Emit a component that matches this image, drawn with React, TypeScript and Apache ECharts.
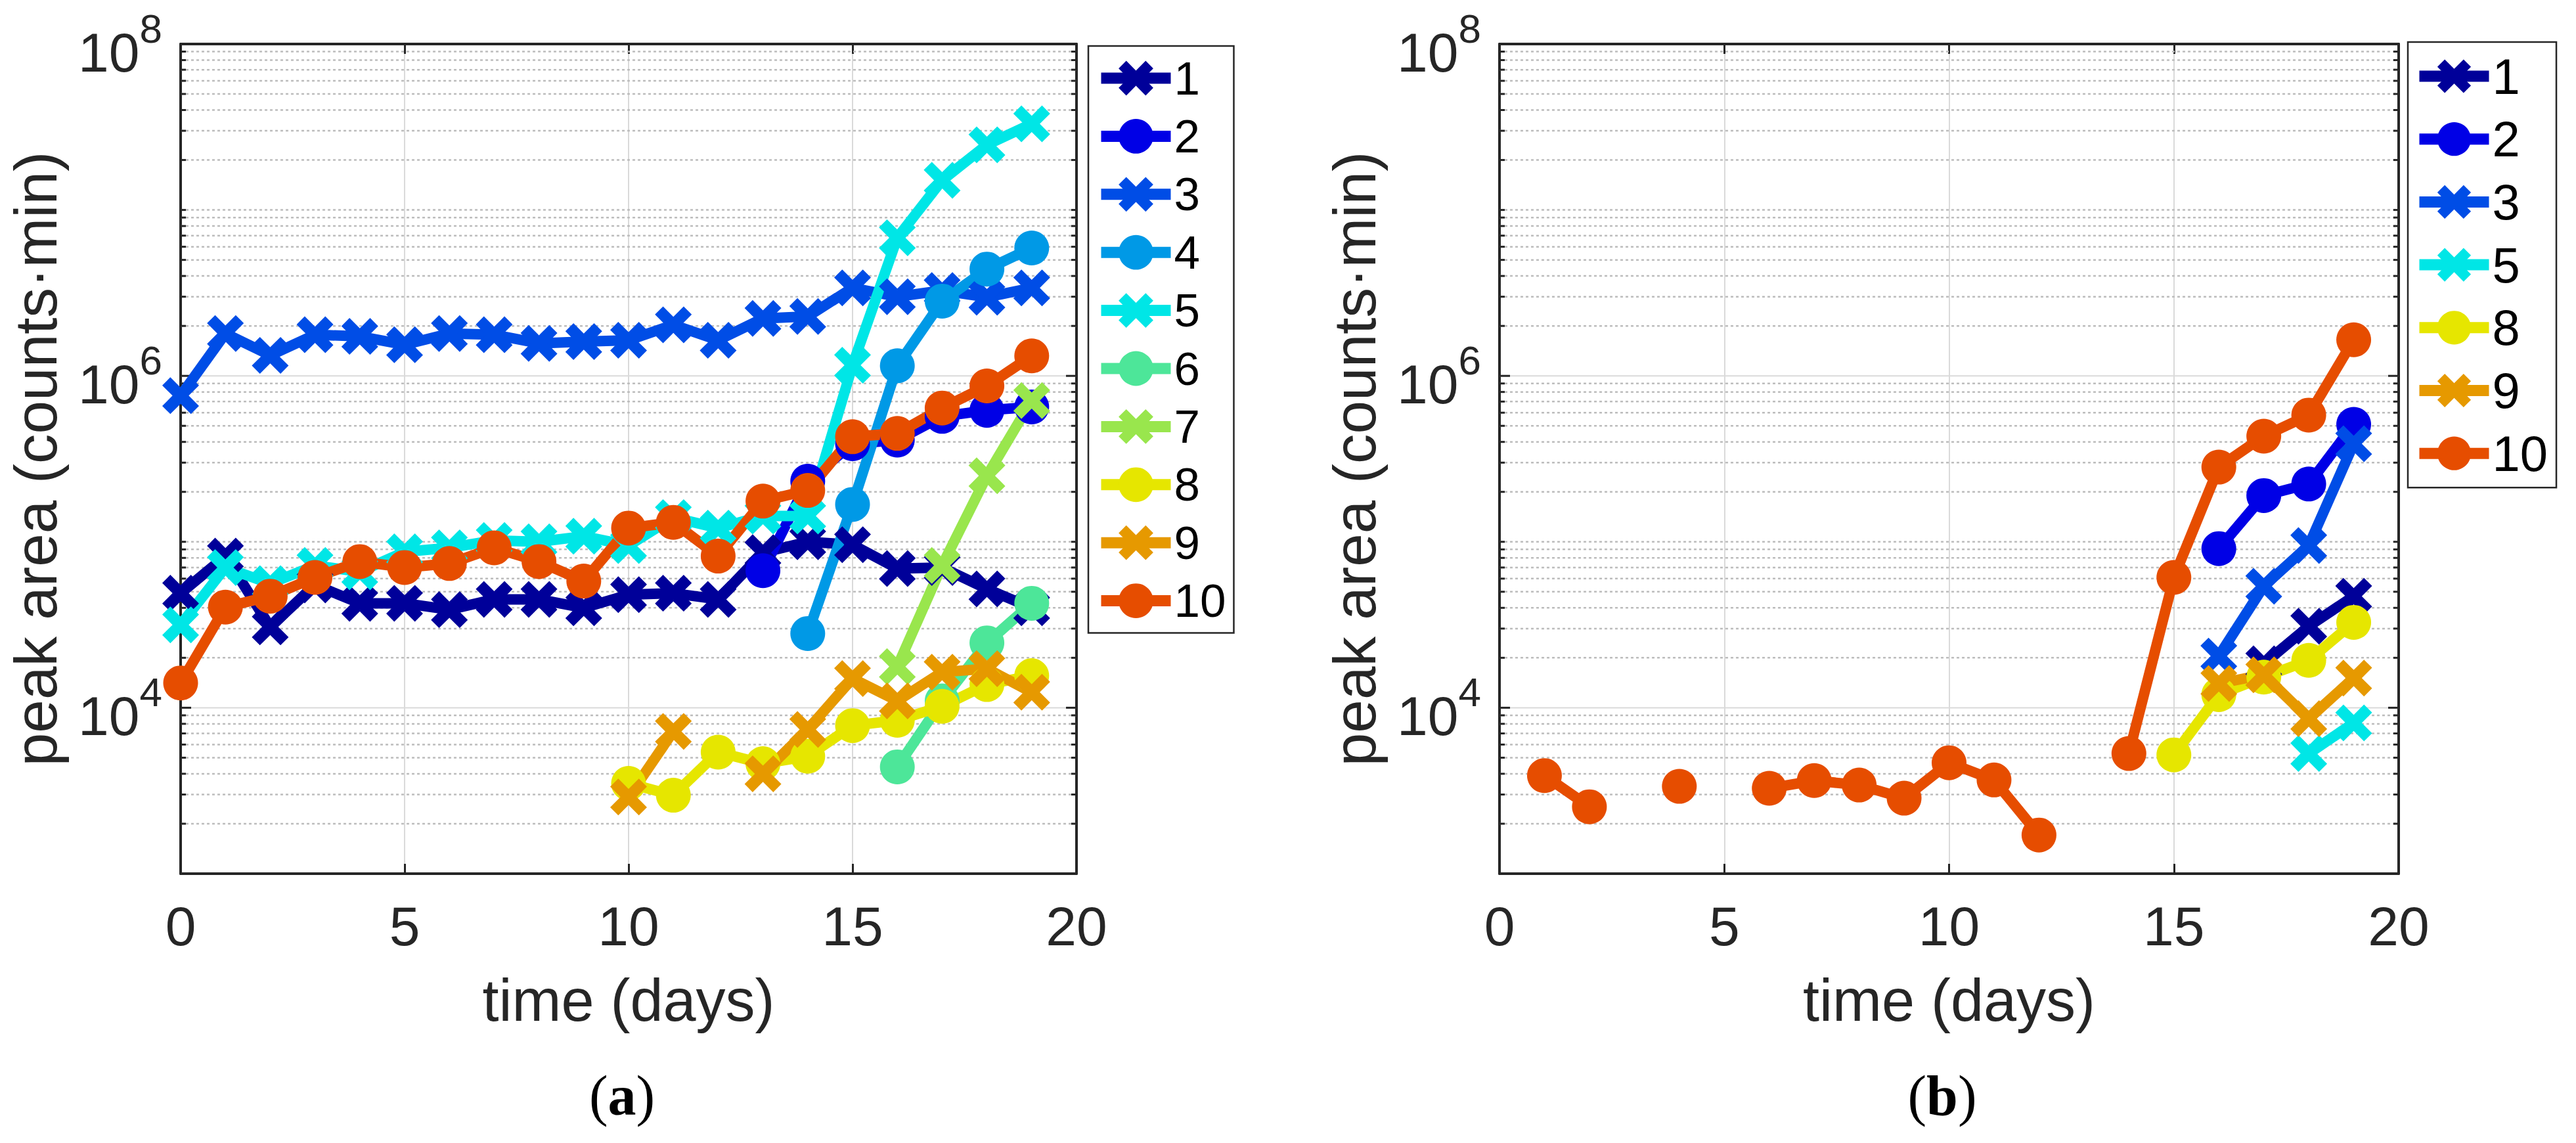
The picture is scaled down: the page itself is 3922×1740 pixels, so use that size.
import React, { useEffect, useRef } from "react";
import * as echarts from "echarts";

const FONT = "'Liberation Sans', Arial, Helvetica, sans-serif";
const SERIF = "'Liberation Serif', 'Times New Roman', serif";
const AXIS_COLOR = "#262626";

// ---------------- data ----------------
const DAYS = [0, 1, 2, 3, 4, 5, 6, 7, 8, 9, 10, 11, 12, 13, 14, 15, 16, 17, 18, 19];

const NAMES_A = ["1", "2", "3", "4", "5", "6", "7", "8", "9", "10"];
const NAMES_B = ["1", "2", "3", "5", "8", "9", "10"];

const COLORS: Record<string, string> = {
  "1": "#000099",
  "2": "#0000E6",
  "3": "#004DE6",
  "4": "#0099E6",
  "5": "#00E6E6",
  "6": "#4DE699",
  "7": "#99E64D",
  "8": "#E6E600",
  "9": "#E69900",
  "10": "#E64D00",
};

const MARKERS: Record<string, string> = {
  "1": "x", "2": "o", "3": "x", "4": "o", "5": "x",
  "6": "o", "7": "x", "8": "o", "9": "x", "10": "o",
};

// panel (a): peak area per day
const A1 = [4.9e4, 8.2e4, 3.07e4, 5.5e4, 4.26e4, 4.26e4, 3.9e4, 4.5e4, 4.5e4, 4.0e4, 4.8e4, 4.9e4, 4.5e4, 8.6e4, 1.0e5, 9.6e4, 6.9e4, 7.0e4, 5.2e4, 4.0e4];
const A2 = [null, null, null, null, null, null, null, null, null, null, null, null, null, 6.7e4, 2.32e5, 3.9e5, 4.1e5, 5.7e5, 6.2e5, 6.5e5];
const A3 = [7.6e5, 1.8e6, 1.33e6, 1.77e6, 1.73e6, 1.54e6, 1.8e6, 1.77e6, 1.57e6, 1.61e6, 1.64e6, 2.03e6, 1.64e6, 2.22e6, 2.28e6, 3.39e6, 3.0e6, 3.27e6, 2.98e6, 3.39e6];
const A4 = [null, null, null, null, null, null, null, null, null, null, null, null, null, null, 2.8e4, 1.68e5, 1.15e6, 2.82e6, 4.4e6, 5.9e6];
const A5 = [3.16e4, 7.0e4, 5.6e4, 7.2e4, 6.6e4, 8.7e4, 9.2e4, 1.02e5, 1.0e5, 1.08e5, 9.5e4, 1.4e5, 1.21e5, 1.43e5, 1.43e5, 1.16e6, 6.8e6, 1.51e7, 2.47e7, 3.3e7];
const A6 = [null, null, null, null, null, null, null, null, null, null, null, null, null, null, null, null, 4.4e3, 1.1e4, 2.46e4, 4.26e4];
const A7 = [null, null, null, null, null, null, null, null, null, null, null, null, null, null, null, null, 1.77e4, 7.2e4, 2.5e5, 7.1e5];
const A8 = [null, null, null, null, null, null, null, null, null, null, 3.5e3, 2.97e3, 5.4e3, 4.6e3, 5.1e3, 7.8e3, 8.4e3, 1.02e4, 1.38e4, 1.56e4];
const A9 = [null, null, null, null, null, null, null, null, null, null, 2.9e3, 7.2e3, null, 4.0e3, 7.4e3, 1.5e4, 1.1e4, 1.64e4, 1.72e4, 1.24e4];
const A10 = [1.41e4, 4.04e4, 4.7e4, 6.1e4, 7.6e4, 7.0e4, 7.4e4, 9.2e4, 7.6e4, 5.8e4, 1.21e5, 1.31e5, 8.2e4, 1.76e5, 2.04e5, 4.3e5, 4.5e5, 6.4e5, 8.7e5, 1.32e6];

// panel (b)
const B1 = [null, null, null, null, null, null, null, null, null, null, null, null, null, null, null, null, null, 1.84e4, 3.1e4, 4.7e4];
const B2 = [null, null, null, null, null, null, null, null, null, null, null, null, null, null, null, null, 9.1e4, 1.9e5, 2.23e5, 5.1e5];
const B3 = [null, null, null, null, null, null, null, null, null, null, null, null, null, null, null, null, 2.05e4, 5.4e4, 9.5e4, 3.9e5];
const B5 = [null, null, null, null, null, null, null, null, null, null, null, null, null, null, null, null, null, null, 5.3e3, 8.1e3];
const B8 = [null, null, null, null, null, null, null, null, null, null, null, null, null, null, null, 5.2e3, 1.2e4, 1.53e4, 1.93e4, 3.27e4];
const B9 = [null, null, null, null, null, null, null, null, null, null, null, null, null, null, null, null, 1.4e4, 1.58e4, 8.6e3, 1.51e4];
const B10 = [null, 3.9e3, 2.53e3, null, 3.36e3, null, 3.27e3, 3.64e3, 3.42e3, 2.85e3, 4.66e3, 3.67e3, 1.71e3, null, 5.3e3, 6.1e4, 2.82e5, 4.33e5, 5.8e5, 1.65e6];

const VALUES_A: Record<string, (number | null)[]> = {
  "1": A1, "2": A2, "3": A3, "4": A4, "5": A5, "6": A6, "7": A7, "8": A8, "9": A9, "10": A10,
};
const VALUES_B: Record<string, (number | null)[]> = {
  "1": B1, "2": B2, "3": B3, "5": B5, "8": B8, "9": B9, "10": B10,
};

// axis structure
const X_MIN = 0;
const X_MAX = 20;
const X_INTERVAL = 5;
const Y_MIN = 1e3;
const Y_MAX = 1e8;
const Y_EXPONENTS = [3, 4, 5, 6, 7];
const Y_MULTIPLIERS = [1, 2, 3, 4, 5, 6, 7, 8, 9];
const Y_LABEL_EXPONENTS = [4, 6, 8];

const X_PATH =
  "path://M22 0 L50 28 L78 0 L100 22 L72 50 L100 78 L78 100 L50 72 L22 100 L0 78 L28 50 L0 22 Z";

// ---------------- helpers ----------------
const yTickData: number[][] = [];
for (const e of Y_EXPONENTS) {
  for (const m of Y_MULTIPLIERS) {
    const major = m === 1 && Y_LABEL_EXPONENTS.indexOf(e) >= 0 ? 1 : 0;
    yTickData.push([X_MIN, m * Math.pow(10, e), major]);
  }
}
yTickData.push([X_MIN, Y_MAX, 1]);

function renderGridTicks(params: any, api: any) {
  const v = api.value(1);
  const major = api.value(2) === 1;
  const pt = api.coord([X_MIN, v]);
  const cs = params.coordSys;
  const y = pt[1];
  const x0 = cs.x;
  const x1 = cs.x + cs.width;
  const children: any[] = [];
  const atEdge = Math.abs(y - cs.y) < 1.5 || Math.abs(y - (cs.y + cs.height)) < 1.5;
  if (!atEdge) {
    children.push({
      type: "line",
      shape: { x1: x0, y1: y, x2: x1, y2: y },
      style: major
        ? { stroke: "#DADADA", lineWidth: 2 }
        : { stroke: "#BDBDBD", lineWidth: 2.5, lineDash: [4, 4] },
    });
  }
  const len = major ? 16 : 8;
  children.push({
    type: "line",
    shape: { x1: x0, y1: y, x2: x0 + len, y2: y },
    style: { stroke: AXIS_COLOR, lineWidth: 3 },
  });
  children.push({
    type: "line",
    shape: { x1: x1 - len, y1: y, x2: x1, y2: y },
    style: { stroke: AXIS_COLOR, lineWidth: 3 },
  });
  return { type: "group", children };
}

function yLabelFormatter(v: number) {
  const e = Math.round(Math.log10(v));
  return Y_LABEL_EXPONENTS.indexOf(e) >= 0 ? `{b|10}{e|${e}}` : "";
}

function xBottom(gridIndex: number) {
  return {
    type: "value",
    gridIndex,
    min: X_MIN,
    max: X_MAX,
    interval: X_INTERVAL,
    position: "bottom",
    name: "time (days)",
    nameLocation: "middle",
    nameGap: 148,
    nameTextStyle: { fontSize: 90, color: AXIS_COLOR, fontFamily: FONT },
    axisLine: { show: true, onZero: false, lineStyle: { color: AXIS_COLOR, width: 4 } },
    axisTick: { show: true, inside: true, length: 15, lineStyle: { color: AXIS_COLOR, width: 3 } },
    axisLabel: { fontSize: 84, color: AXIS_COLOR, fontFamily: FONT, margin: 38 },
    splitLine: { show: true, lineStyle: { color: "#DADADA", width: 2 } },
  };
}

function xTop(gridIndex: number) {
  return {
    type: "value",
    gridIndex,
    min: X_MIN,
    max: X_MAX,
    interval: X_INTERVAL,
    position: "top",
    axisLine: { show: true, onZero: false, lineStyle: { color: AXIS_COLOR, width: 4 } },
    axisTick: { show: true, inside: true, length: 15, lineStyle: { color: AXIS_COLOR, width: 3 } },
    axisLabel: { show: false },
    splitLine: { show: false },
  };
}

function yLeft(gridIndex: number) {
  return {
    type: "log",
    logBase: 10,
    gridIndex,
    min: Y_MIN,
    max: Y_MAX,
    position: "left",
    name: "peak area (counts\u00B7min)",
    nameLocation: "middle",
    nameGap: 175,
    nameTextStyle: { fontSize: 91, color: AXIS_COLOR, fontFamily: FONT },
    axisLine: { show: true, onZero: false, lineStyle: { color: AXIS_COLOR, width: 4 } },
    axisTick: { show: false },
    minorTick: { show: false },
    splitLine: { show: false },
    axisLabel: {
      margin: 28,
      formatter: yLabelFormatter,
      showMinLabel: true,
      showMaxLabel: true,
      rich: {
        b: { fontSize: 84, fontFamily: FONT, color: AXIS_COLOR, lineHeight: 110, verticalAlign: "bottom" },
        e: { fontSize: 62, fontFamily: FONT, color: AXIS_COLOR, lineHeight: 62, verticalAlign: "top" },
      },
    },
  };
}

function yRight(gridIndex: number) {
  return {
    type: "log",
    logBase: 10,
    gridIndex,
    min: Y_MIN,
    max: Y_MAX,
    position: "right",
    axisLine: { show: true, onZero: false, lineStyle: { color: AXIS_COLOR, width: 4 } },
    axisTick: { show: false },
    axisLabel: { show: false },
    splitLine: { show: false },
  };
}

function lineSeries(name: string, values: (number | null)[], axisIndex: number) {
  const isX = MARKERS[name] === "x";
  return {
    type: "line",
    name,
    xAxisIndex: axisIndex,
    yAxisIndex: axisIndex,
    data: DAYS.map((d, i) => [d, values[i]]),
    connectNulls: false,
    showSymbol: true,
    symbol: isX ? X_PATH : "circle",
    symbolSize: isX ? 56 : 53,
    lineStyle: { width: 16, color: COLORS[name] },
    itemStyle: { color: COLORS[name] },
    emphasis: { disabled: true },
    silent: true,
    z: 3,
  };
}

function panelLabel(x: number, letter: string) {
  return {
    type: "text",
    x,
    y: 1668,
    style: {
      text: `{p|(}{l|${letter}}{p|)}`,
      fill: "#000000",
      align: "center",
      verticalAlign: "middle",
      textAlign: "center",
      textVerticalAlign: "middle",
      rich: {
        p: { fontSize: 86, fontFamily: SERIF, fontWeight: "normal", fill: "#000000", lineHeight: 90 },
        l: { fontSize: 86, fontFamily: SERIF, fontWeight: "bold", fill: "#000000", lineHeight: 90 },
      },
    },
  };
}

function buildOption() {
  const series: any[] = [
    {
      type: "custom",
      xAxisIndex: 0,
      yAxisIndex: 0,
      data: yTickData,
      renderItem: renderGridTicks,
      silent: true,
      z: 1,
    },
    {
      type: "custom",
      xAxisIndex: 2,
      yAxisIndex: 2,
      data: yTickData,
      renderItem: renderGridTicks,
      silent: true,
      z: 1,
    },
  ];
  NAMES_A.forEach((n) => series.push(lineSeries(n, VALUES_A[n], 0)));
  NAMES_B.forEach((n) => series.push(lineSeries(n, VALUES_B[n], 2)));

  const legendCommon = {
    orient: "vertical",
    itemWidth: 106,
    borderColor: AXIS_COLOR,
    backgroundColor: "#FFFFFF",
    borderWidth: 2.5,
    selectedMode: false,
    lineStyle: { width: 17 },
  };

  return {
    animation: false,
    backgroundColor: "#FFFFFF",
    grid: [
      { left: 275, top: 67, width: 1364, height: 1263 },
      { left: 2283, top: 67, width: 1369, height: 1263 },
    ],
    xAxis: [xBottom(0), xTop(0), xBottom(1), xTop(1)],
    yAxis: [yLeft(0), yRight(0), yLeft(1), yRight(1)],
    legend: [
      {
        ...legendCommon,
        left: 1657,
        top: 70,
        data: NAMES_A,
        itemHeight: 66,
        itemGap: 17.4,
        padding: [13.5, 12, 13.5, 11],
        textStyle: { fontSize: 71, lineHeight: 71, color: "#000000", fontFamily: FONT },
      },
      {
        ...legendCommon,
        left: 3666,
        top: 64,
        data: NAMES_B,
        itemHeight: 64,
        itemGap: 19.7,
        padding: [14, 13, 14, 9],
        textStyle: { fontSize: 76, lineHeight: 76, color: "#000000", fontFamily: FONT },
      },
    ],
    graphic: [panelLabel(947, "a"), panelLabel(2957, "b")],
    series,
  };
}

export default function App() {
  const ref = useRef<HTMLDivElement>(null);
  useEffect(() => {
    document.body.style.margin = "0";
    if (!ref.current) return;
    const chart = echarts.init(ref.current, undefined, { renderer: "svg" });
    chart.setOption(buildOption() as any);
    return () => chart.dispose();
  }, []);
  return <div ref={ref} style={{ width: 3922, height: 1740, background: "#fff" }} />;
}
